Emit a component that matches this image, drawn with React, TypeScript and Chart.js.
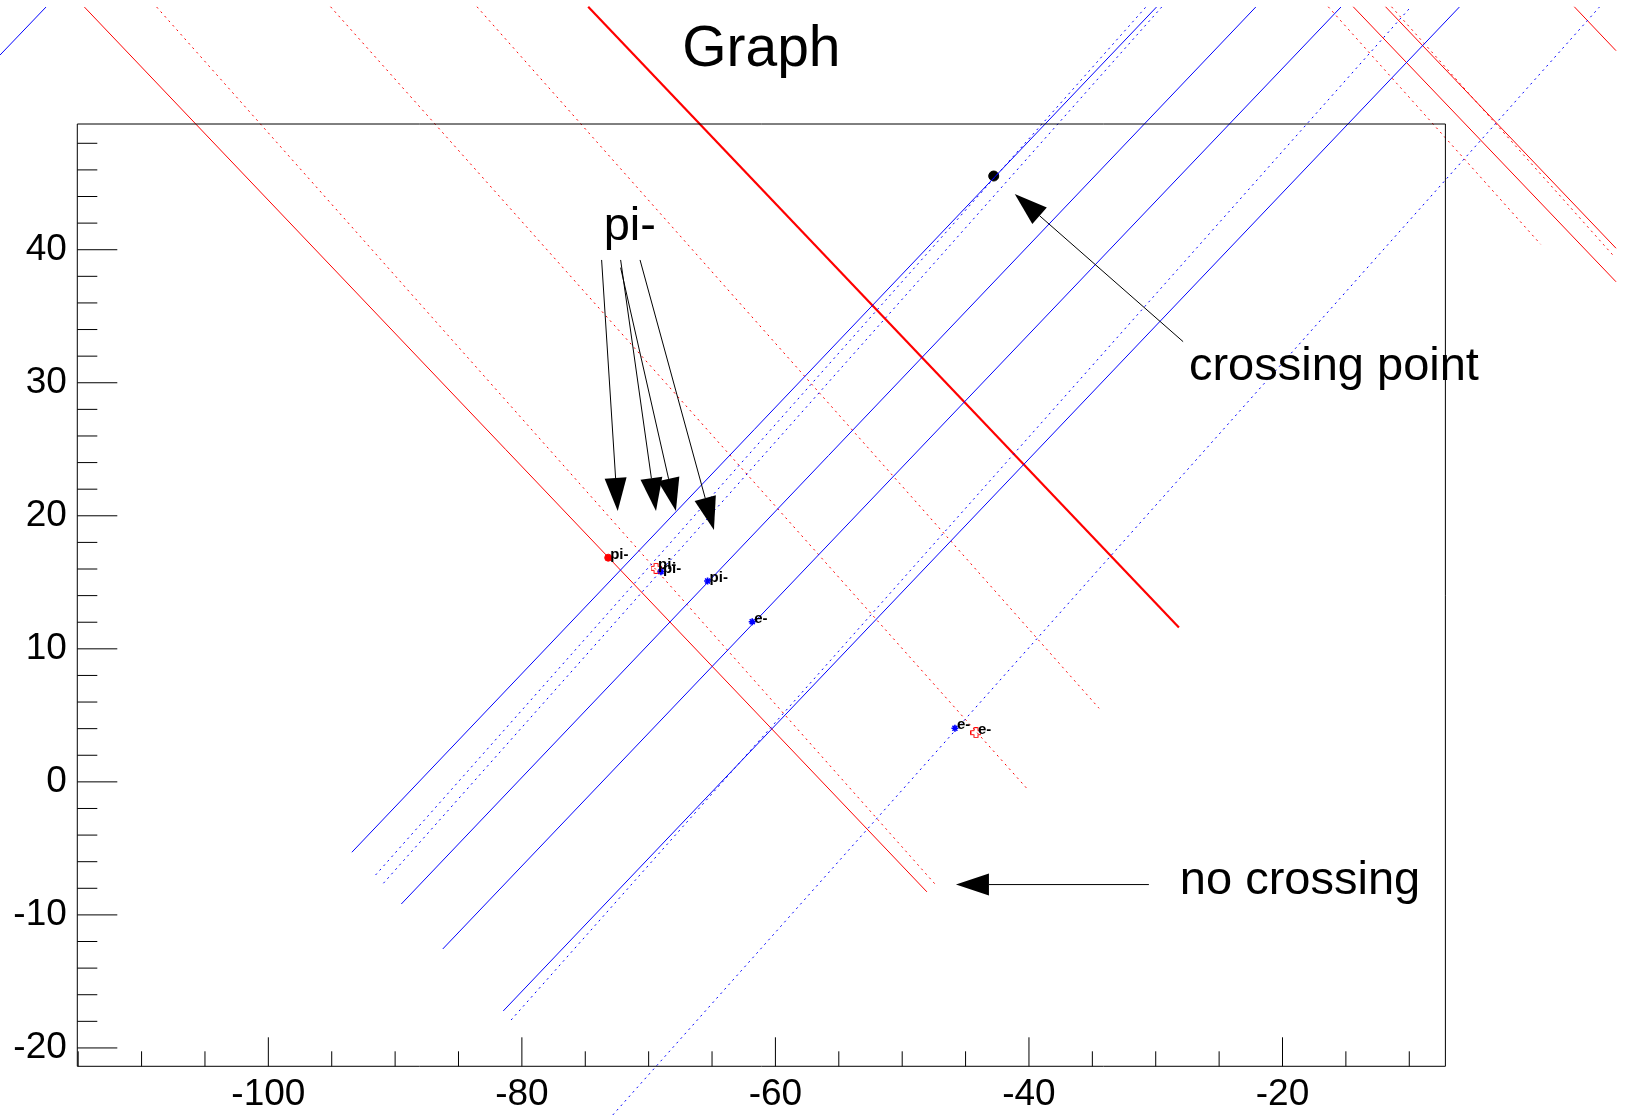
import React, { useEffect, useRef } from "react";
import { Chart, registerables } from "chart.js";

Chart.register(...registerables);

const FONT = '"Liberation Sans", Arial, Helvetica, sans-serif';

// axis ranges and ticks
const xRange = [-115.07, -7.15];
const yRange = [-21.38, 49.45];
const xMajorTicks = [-100, -80, -60, -40, -20];
const xMinorTicks = [-115, -110, -105, -95, -90, -85, -75, -70, -65, -55, -50, -45, -35, -30, -25, -15, -10];
const yMajorTicks = [-20, -10, 0, 10, 20, 30, 40];
const yMinorTicks = [-18, -16, -14, -12, -8, -6, -4, -2, 2, 4, 6, 8, 12, 14, 16, 18, 22, 24, 26, 28, 32, 34, 36, 38, 42, 44, 46, 48];

// blue tracks (rising)
const blueStartX = [-121.17, -93.41, -91.54, -90.92, -89.51, -86.24, -81.47, -80.85, -72.83];
const blueStartY = [54.63, -5.29, -7.0, -7.62, -9.18, -12.56, -17.22, -17.9, -25.04];
const blueEndX = [-117.54, -29.94, -30.78, -29.53, -22.11, -15.39, -6.05, -9.89, 5.0];
const blueEndY = [58.24, 58.24, 58.24, 58.24, 58.24, 58.24, 58.24, 58.24, 58.24];
const blueDotted = [false, false, true, true, false, false, false, true, true];

// red tracks (falling)
const redStartX = [-114.51, -108.81, -95.09, -83.54, -74.77, -16.39, -14.42, -11.87, -11.4, 3.02];
const redStartY = [58.24, 58.24, 58.26, 58.26, 58.26, 58.26, 58.26, 58.26, 58.26, 58.26];
const redEndX = [-48.05, -47.42, -40.19, -34.47, -28.17, 0.36, 6.31, 6.31, 6.18, 6.31];
const redEndY = [-8.27, -7.67, -0.47, 5.53, 11.61, 40.41, 37.59, 40.11, 39.47, 54.96];
const redDotted = [false, true, true, true, false, true, false, false, true, false];
const redDouble = [false, false, false, false, true, false, false, false, false, false];

// hits with particle labels
const hitX = [-73.19, -69.42, -69.03, -65.35, -61.83, -45.84, -44.18];
const hitY = [16.85, 16.05, 15.8, 15.1, 12.04, 4.03, 3.7];
const hitLabel = ["pi-", "pi-", "pi-", "pi-", "e-", "e-", "e-"];
const hitIsRed = [true, true, false, false, false, false, true];
const hitFilled = [true, false, true, true, true, true, false];

// crossing point
const crossX = [-42.78];
const crossY = [45.54];

// annotation texts
const noteText = ["pi-", "crossing point", "no crossing"];
const noteX = [-73.55, -27.38, -28.1];
const noteY = [40.73, 30.21, -8.43];

// annotation arrows
const arrowFromX = [-73.71, -72.21, -72.21, -70.68, -27.84, -30.54];
const arrowFromY = [39.23, 39.23, 38.65, 39.23, 33.09, -7.72];
const arrowToX = [-72.44, -69.42, -67.85, -64.85, -41.12, -45.76];
const arrowToY = [20.36, 20.36, 20.36, 18.93, 44.19, -7.72];

function openCross(color: string): HTMLCanvasElement {
  const s = 11;
  const c = document.createElement("canvas");
  c.width = s;
  c.height = s;
  const g = c.getContext("2d")!;
  g.strokeStyle = color;
  g.lineWidth = 1;
  const a = 3.5, b = 7.5, e = 0.5, f = 10.5;
  g.beginPath();
  g.moveTo(a, e); g.lineTo(b, e); g.lineTo(b, a); g.lineTo(f, a); g.lineTo(f, b);
  g.lineTo(b, b); g.lineTo(b, f); g.lineTo(a, f); g.lineTo(a, b); g.lineTo(e, b);
  g.lineTo(e, a); g.lineTo(a, a); g.closePath();
  g.stroke();
  return c;
}

const decor = {
  id: "rootDecor",
  afterDraw(chart: any) {
    const { ctx, chartArea: a } = chart;
    const xs = chart.scales.x;
    const ys = chart.scales.y;
    ctx.save();
    // frame
    ctx.strokeStyle = "#000";
    ctx.lineWidth = 1;
    ctx.beginPath();
    ctx.moveTo(a.left, a.top);
    ctx.lineTo(a.right, a.top);
    ctx.lineTo(a.right, a.bottom);
    ctx.lineTo(a.left, a.bottom);
    ctx.closePath();
    ctx.stroke();
    // ticks
    ctx.beginPath();
    yMajorTicks.forEach((v) => {
      const py = ys.getPixelForValue(v);
      ctx.moveTo(a.left, py);
      ctx.lineTo(a.left + 40, py);
    });
    yMinorTicks.forEach((v) => {
      const py = ys.getPixelForValue(v);
      ctx.moveTo(a.left, py);
      ctx.lineTo(a.left + 20, py);
    });
    xMajorTicks.forEach((v) => {
      const px = xs.getPixelForValue(v);
      ctx.moveTo(px, a.bottom);
      ctx.lineTo(px, a.bottom - 29);
    });
    xMinorTicks.forEach((v) => {
      const px = xs.getPixelForValue(v);
      ctx.moveTo(px, a.bottom);
      ctx.lineTo(px, a.bottom - 15);
    });
    ctx.stroke();
    // hit labels
    ctx.fillStyle = "#000";
    ctx.textAlign = "left";
    ctx.textBaseline = "alphabetic";
    ctx.font = `bold 15px ${FONT}`;
    hitLabel.forEach((t, i) => {
      ctx.fillText(t, xs.getPixelForValue(hitX[i]) + 2, ys.getPixelForValue(hitY[i]) + 1);
    });
    // notes
    ctx.font = `47px ${FONT}`;
    noteText.forEach((t, i) => {
      ctx.fillText(t, xs.getPixelForValue(noteX[i]), ys.getPixelForValue(noteY[i]));
    });
    // arrows
    ctx.lineWidth = 1;
    arrowFromX.forEach((_, i) => {
      const x1 = xs.getPixelForValue(arrowFromX[i]);
      const y1 = ys.getPixelForValue(arrowFromY[i]);
      const x2 = xs.getPixelForValue(arrowToX[i]);
      const y2 = ys.getPixelForValue(arrowToY[i]);
      const ang = Math.atan2(y2 - y1, x2 - x1);
      const len = 33, hw = 11;
      const bx = x2 - len * Math.cos(ang);
      const by = y2 - len * Math.sin(ang);
      ctx.beginPath();
      ctx.moveTo(x1, y1);
      ctx.lineTo(bx, by);
      ctx.stroke();
      ctx.beginPath();
      ctx.moveTo(x2, y2);
      ctx.lineTo(bx + hw * Math.sin(ang), by - hw * Math.cos(ang));
      ctx.lineTo(bx - hw * Math.sin(ang), by + hw * Math.cos(ang));
      ctx.closePath();
      ctx.fill();
    });
    ctx.restore();
  },
};

export default function App() {
  const ref = useRef<HTMLCanvasElement>(null);
  useEffect(() => {
    const canvas = ref.current!;
    const datasets: any[] = [];
    blueStartX.forEach((_, i) => {
      datasets.push({
        data: [
          { x: blueStartX[i], y: blueStartY[i] },
          { x: blueEndX[i], y: blueEndY[i] },
        ],
        showLine: true,
        borderColor: "#0000ff",
        borderWidth: 1,
        borderDash: blueDotted[i] ? [2, 4] : [],
        pointRadius: 0,
        fill: false,
        clip: false,
      });
    });
    redStartX.forEach((_, i) => {
      datasets.push({
        data: [
          { x: redStartX[i], y: redStartY[i] },
          { x: redEndX[i], y: redEndY[i] },
        ],
        showLine: true,
        borderColor: "#ff0000",
        borderWidth: redDouble[i] ? 2.2 : 1,
        borderDash: redDotted[i] ? [2, 4] : [],
        pointRadius: 0,
        fill: false,
        clip: false,
      });
    });
    const redOpen = openCross("#ff0000");
    datasets.push({
      data: hitX.map((x, i) => ({ x, y: hitY[i] })),
      showLine: false,
      pointStyle: hitX.map((_, i) => (hitFilled[i] ? (hitIsRed[i] ? "circle" : "star") : redOpen)),
      pointRadius: hitX.map((_, i) => (hitIsRed[i] ? 3.5 : 3.5)),
      pointBorderWidth: hitX.map((_, i) => (hitIsRed[i] ? 1 : 1.6)),
      pointBackgroundColor: hitX.map((_, i) => (hitIsRed[i] ? "#ff0000" : "#0000ff")),
      pointBorderColor: hitX.map((_, i) => (hitIsRed[i] ? "#ff0000" : "#0000ff")),
      clip: false,
    });
    datasets.push({
      data: crossX.map((x, i) => ({ x, y: crossY[i] })),
      showLine: false,
      pointStyle: "circle",
      pointRadius: 5,
      pointBackgroundColor: "#000",
      pointBorderColor: "#000",
      clip: false,
    });

    const chart = new Chart(canvas, {
      type: "scatter",
      data: { datasets },
      plugins: [decor],
      options: {
        responsive: false,
        animation: false,
        events: [],
        layout: { padding: { left: 0, right: 180.6, top: 0, bottom: 0 } },
        plugins: {
          legend: { display: false },
          tooltip: { enabled: false },
          title: {
            display: true,
            text: "Graph",
            fullSize: false,
            color: "#000",
            font: { family: FONT, size: 57, weight: "normal", lineHeight: 1 },
            padding: { top: 21.6, bottom: 45.4 },
          },
        },
        scales: {
          x: {
            type: "linear",
            min: xRange[0],
            max: xRange[1],
            afterBuildTicks: (s: any) => {
              s.ticks = xMajorTicks.map((v) => ({ value: v }));
            },
            afterFit: (s: any) => {
              s.height = 48.7;
            },
            grid: { display: false, drawTicks: false, tickLength: 0 },
            border: { display: false },
            ticks: {
              color: "#000",
              font: { family: FONT, size: 37 },
              padding: 6,
              maxRotation: 0,
              autoSkip: false,
            },
          },
          y: {
            type: "linear",
            min: yRange[0],
            max: yRange[1],
            afterBuildTicks: (s: any) => {
              s.ticks = yMajorTicks.map((v) => ({ value: v }));
            },
            afterFit: (s: any) => {
              s.width = 77.3;
            },
            grid: { display: false, drawTicks: false, tickLength: 0 },
            border: { display: false },
            ticks: {
              color: "#000",
              font: { family: FONT, size: 37 },
              padding: 10.5,
              autoSkip: false,
            },
          },
        },
      } as any,
    });
    return () => chart.destroy();
  }, []);
  return (
    <canvas
      ref={ref}
      width={1626}
      height={1115}
      style={{ position: "absolute", left: 0, top: 0, width: "1626px", height: "1115px", display: "block" }}
    />
  );
}
